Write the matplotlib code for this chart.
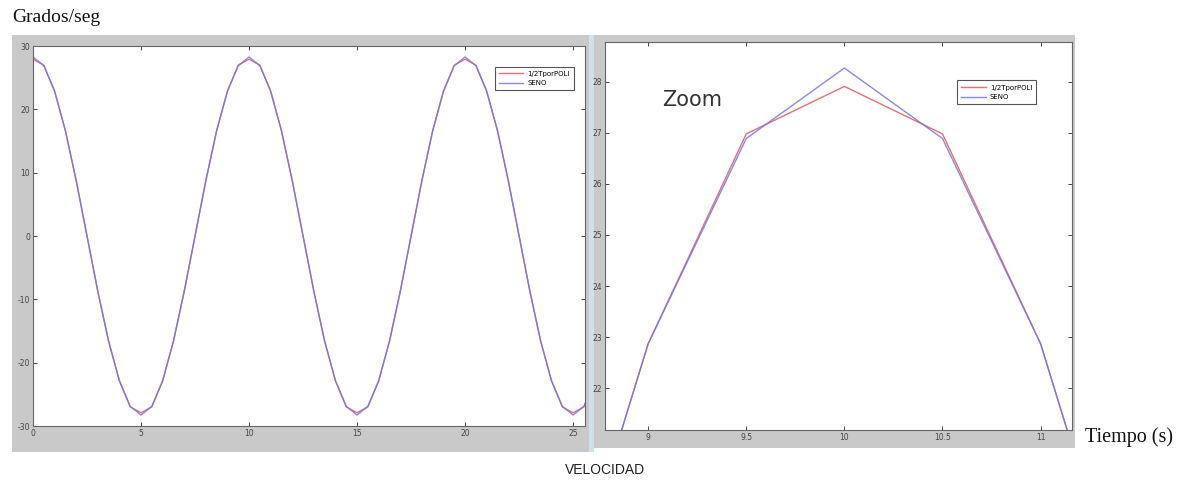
import matplotlib
matplotlib.use("Agg")
import matplotlib.pyplot as plt
from matplotlib.patches import Rectangle
from matplotlib.ticker import FormatStrFormatter

plt.rcParams["axes.unicode_minus"] = False

# tiempo (s), muestreo cada 0.5 s
tiempo = [0.0, 0.5, 1.0, 1.5, 2.0, 2.5, 3.0, 3.5, 4.0, 4.5,
          5.0, 5.5, 6.0, 6.5, 7.0, 7.5, 8.0, 8.5, 9.0, 9.5,
          10.0, 10.5, 11.0, 11.5, 12.0, 12.5, 13.0, 13.5, 14.0, 14.5,
          15.0, 15.5, 16.0, 16.5, 17.0, 17.5, 18.0, 18.5, 19.0, 19.5,
          20.0, 20.5, 21.0, 21.5, 22.0, 22.5, 23.0, 23.5, 24.0, 24.5,
          25.0, 25.5, 26.0]

# velocidad SENO (grados/seg)
seno = [28.27, 26.89, 22.87, 16.62, 8.74, 0.0, -8.74, -16.62, -22.87, -26.89,
        -28.27, -26.89, -22.87, -16.62, -8.74, 0.0, 8.74, 16.62, 22.87, 26.89,
        28.27, 26.89, 22.87, 16.62, 8.74, 0.0, -8.74, -16.62, -22.87, -26.89,
        -28.27, -26.89, -22.87, -16.62, -8.74, 0.0, 8.74, 16.62, 22.87, 26.89,
        28.27, 26.89, 22.87, 16.62, 8.74, 0.0, -8.74, -16.62, -22.87, -26.89,
        -28.27, -26.89, -22.87]

# velocidad 1/2TporPOLI (grados/seg)
poli = [27.91, 26.98, 22.87, 16.62, 8.74, 0.0, -8.74, -16.62, -22.87, -26.98,
        -27.91, -26.98, -22.87, -16.62, -8.74, 0.0, 8.74, 16.62, 22.87, 26.98,
        27.91, 26.98, 22.87, 16.62, 8.74, 0.0, -8.74, -16.62, -22.87, -26.98,
        -27.91, -26.98, -22.87, -16.62, -8.74, 0.0, 8.74, 16.62, 22.87, 26.98,
        27.91, 26.98, 22.87, 16.62, 8.74, 0.0, -8.74, -16.62, -22.87, -26.98,
        -27.91, -26.98, -22.87]

ticks_x_izq = [0, 5, 10, 15, 20, 25]
ticks_y_izq = [-30, -20, -10, 0, 10, 20, 30]
ticks_x_der = [9, 9.5, 10, 10.5, 11]
ticks_y_der = [22, 23, 24, 25, 26, 27, 28]

W, H = 1190, 483
fig = plt.figure(figsize=(W / 100, H / 100), dpi=100)
fig.patch.set_facecolor("white")


def fr(x0, y0, x1, y1):
    # pixel box (top-left origin) -> figure fraction rect
    return [x0 / W, 1 - y1 / H, (x1 - x0) / W, (y1 - y0) / H]


# gray matlab frames and the light blue gap between screenshots
for x0, y0, x1, y1, c in [(12, 35, 590, 452, "#c9c9c9"),
                          (593, 35, 1075, 448, "#c9c9c9"),
                          (589, 35, 594, 452, "#cfe2ea")]:
    r = fr(x0, y0, x1, y1)
    fig.patches.append(Rectangle((r[0], r[1]), r[2], r[3], transform=fig.transFigure,
                                 facecolor=c, edgecolor="none", zorder=-5))

ax1 = fig.add_axes(fr(33, 46, 585, 426))
ax2 = fig.add_axes(fr(605, 42, 1072, 430))

red = "#e87070"
blue = "#7474e4"

for ax in (ax1, ax2):
    ax.set_zorder(2)
    ax.plot(tiempo, poli, color=red, linewidth=1.0, label="1/2TporPOLI")
    ax.plot(tiempo, seno, color=blue, linewidth=1.0, alpha=0.85, label="SENO")
    ax.tick_params(direction="in", length=3, width=0.7, labelsize=5.5,
                   colors="#444444", top=True, right=True, pad=2)
    for s in ax.spines.values():
        s.set_color("#666666")
        s.set_linewidth(0.8)
    ax.set_facecolor("white")

ax1.set_xlim(0, 25.55)
ax1.set_ylim(-30, 30)
ax1.set_xticks(ticks_x_izq)
ax1.set_yticks(ticks_y_izq)

ax2.set_xlim(8.78, 11.16)
ax2.set_ylim(21.18, 28.78)
ax2.set_xticks(ticks_x_der)
ax2.set_yticks(ticks_y_der)
ax2.xaxis.set_major_formatter(FormatStrFormatter("%g"))

leg_kw = dict(fontsize=5, handlelength=3.5, fancybox=False, edgecolor="#555555",
              framealpha=1, borderpad=0.6, labelspacing=0.5, handletextpad=0.6)
l1 = ax1.legend(loc="upper right", bbox_to_anchor=(0.986, 0.955), **leg_kw)
l2 = ax2.legend(loc="upper right", bbox_to_anchor=(0.931, 0.91), **leg_kw)
for lg in (l1, l2):
    lg.get_frame().set_linewidth(0.8)

ax2.text(9.07, 27.65, "Zoom", fontsize=15, color="#333333", va="center",
         family="DejaVu Sans")

fig.text(12 / W, 1 - 18 / H, "Grados/seg", fontsize=14, family="Liberation Serif",
         va="center", ha="left", color="#111111")
fig.text(1085 / W, 1 - 437 / H, "Tiempo (s)", fontsize=14.5, family="Liberation Serif",
         va="center", ha="left", color="#111111")
fig.text(605 / W, 1 - 470 / H, "VELOCIDAD", fontsize=10, family="Liberation Sans",
         va="center", ha="center", color="#222222")

fig.savefig("out.png", dpi=100)
